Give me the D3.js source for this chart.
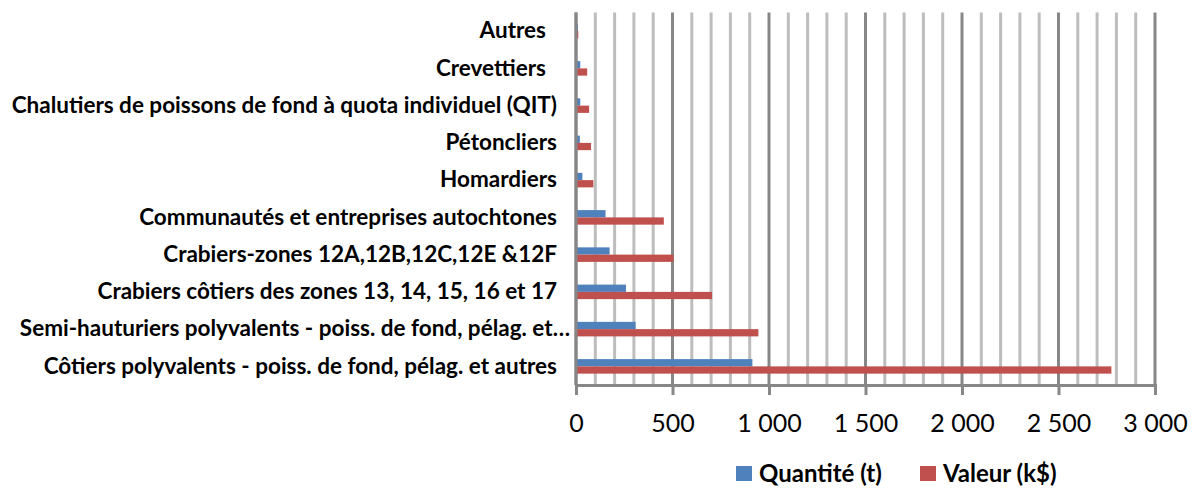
<!DOCTYPE html>
<html>
<head>
<meta charset="utf-8">
<script src="https://cdn.jsdelivr.net/npm/d3@7"></script>
<style>
  html, body { margin: 0; padding: 0; background: #fff; }
  svg { display: block; }
  text { font-family: Lato, "Open Sans", sans-serif; fill: #000; }
</style>
</head>
<body>
<svg id="chart" width="1194" height="489"></svg>
<script>
const categories = [
  "Autres",
  "Crevettiers",
  "Chalutiers de poissons de fond à quota individuel (QIT)",
  "Pétoncliers",
  "Homardiers",
  "Communautés et entreprises autochtones",
  "Crabiers-zones 12A,12B,12C,12E &12F",
  "Crabiers côtiers des zones 13, 14, 15, 16 et 17",
  "Semi-hauturiers polyvalents - poiss. de fond, pélag. et…",
  "Côtiers polyvalents - poiss. de fond, pélag. et autres"
];
const seriesNames = ["Quantité (t)", "Valeur (k$)"];
const quantite = [10, 22, 22, 20, 33, 153, 174, 259, 309, 914];
const valeur = [12, 58, 68, 78, 90, 455, 505, 705, 945, 2774];
const tickValues = [0, 500, 1000, 1500, 2000, 2500, 3000];
const minorTickValues = d3.range(0, 3001, 100);
const colors = ["#4F81BD", "#C0504D"];

(function () {
const svg = d3.select("#chart");
const pLeft = 576, pRight = 1155, pTop = 12.5, pBottom = 385;

const x = d3.scaleLinear().domain([0, 3000]).range([pLeft, pRight]);
const y = d3.scaleBand().domain(categories).range([pTop, pBottom])
  .paddingInner(0.61).paddingOuter(0.305);
const ys = d3.scaleBand().domain(seriesNames).range([0, y.bandwidth()]);

const fr = d3.formatLocale({decimal: ",", thousands: " ", grouping: [3], currency: ["", " $"]});
const fmt = fr.format(",d");

// minor gridlines
svg.append("g").selectAll("line").data(minorTickValues.filter(v => v % 500 !== 0))
  .join("line")
  .attr("x1", d => x(d)).attr("x2", d => x(d))
  .attr("y1", pTop).attr("y2", pBottom)
  .attr("stroke", "#bdbdbd").attr("stroke-width", 3);

// major gridlines
svg.append("g").selectAll("line").data(tickValues)
  .join("line")
  .attr("x1", d => x(d)).attr("x2", d => x(d))
  .attr("y1", pTop).attr("y2", pBottom)
  .attr("stroke", "#878787").attr("stroke-width", 3);

// bottom axis
const xAxis = d3.axisBottom(x).tickValues(tickValues).tickFormat(fmt).tickSize(10).tickPadding(19);
const gx = svg.append("g").attr("transform", `translate(0,${pBottom})`).call(xAxis);
gx.select(".domain").attr("stroke", "#878787").attr("stroke-width", 3);
gx.selectAll(".tick line").attr("stroke", "#878787").attr("stroke-width", 3);
gx.selectAll(".tick text").attr("font-size", 25).attr("font-family", "Lato, sans-serif").attr("fill", "#000");

// bars
const data = categories.map((c, i) => ({cat: c, vals: [quantite[i], valeur[i]]}));
const groups = svg.append("g").selectAll("g").data(data).join("g")
  .attr("transform", d => `translate(0,${y(d.cat)})`);
groups.selectAll("rect").data(d => d.vals.map((v, j) => ({name: seriesNames[j], v, j})))
  .join("rect")
  .attr("x", x(0))
  .attr("y", d => ys(d.name))
  .attr("width", d => x(d.v) - x(0))
  .attr("height", ys.bandwidth())
  .attr("fill", d => colors[d.j]);

// left axis line
svg.append("line").attr("x1", x(0)).attr("x2", x(0)).attr("y1", pTop).attr("y2", pBottom)
  .attr("stroke", "#878787").attr("stroke-width", 3);

// category labels
const yAxis = d3.axisLeft(y).tickSize(0).tickPadding(19);
const gy = svg.append("g").attr("transform", `translate(${pLeft},0)`).call(yAxis);
gy.select(".domain").remove();
gy.selectAll(".tick text").attr("font-size", 22.5).attr("font-weight", "bold")
  .attr("font-family", "Lato, sans-serif").attr("fill", "#000");
// short labels carry trailing space in the original; truncated label overhangs
gy.selectAll(".tick text").filter(d => d === "Autres" || d === "Crevettiers").attr("dx", -11);
gy.selectAll(".tick text").filter(d => d.endsWith("…")).attr("dx", 13);

// legend
const legend = svg.append("g").attr("transform", "translate(736,466)");
const legX = [0, 184];
seriesNames.forEach((n, i) => {
  const g = legend.append("g").attr("transform", `translate(${legX[i]},0)`);
  g.append("rect").attr("width", 16).attr("height", 15).attr("fill", colors[i]);
  g.append("text").attr("x", 23).attr("y", 16).attr("font-size", 24).attr("font-weight", "bold").text(n);
});
})();
</script>
</body>
</html>
